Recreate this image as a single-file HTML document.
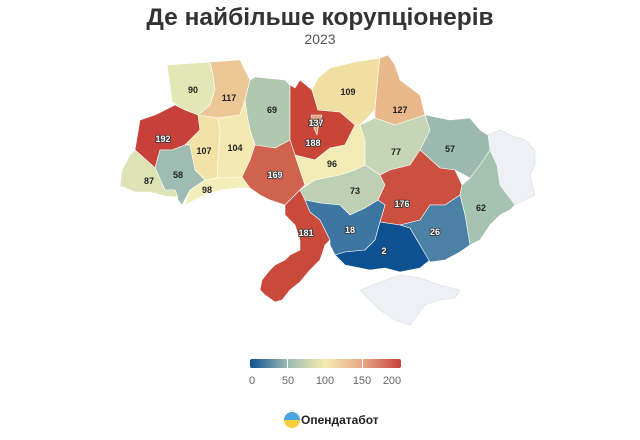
<!DOCTYPE html>
<html><head><meta charset="utf-8"><style>
body{margin:0;width:640px;height:435px;background:#fff;overflow:hidden;font-family:"Liberation Sans",sans-serif}
</style></head><body>
<svg width="640" height="435" viewBox="0 0 640 435" xmlns="http://www.w3.org/2000/svg" font-family="Liberation Sans, sans-serif">
<text x="320" y="25" text-anchor="middle" font-size="24.5" font-weight="bold" fill="#333">Де найбільше корупціонерів</text>
<text x="320" y="44" text-anchor="middle" font-size="14" fill="#555">2023</text>
<g stroke="#ffffff" stroke-width="0.6" stroke-linejoin="round">
<polygon fill="#eef0f5" stroke="#d6dbe4" points="488,135 500,130 510,135 525,140 535,150 535,165 530,175 535,195 515,205 500,185 497,165 490,150"/>
<polygon fill="#eef0f5" stroke="#d6dbe4" points="360,290 380,282 400,275 420,278 440,285 460,290 455,298 440,300 425,305 410,325 395,320 380,310 370,300"/>
<polygon fill="#e3e7b6" points="167,65 210,62 213,75 215,90 210,105 198,115 185,110 172,102 170,85"/>
<polygon fill="#ecc796" points="210,62 240,60 250,80 245,100 240,115 218,118 198,115 210,105 215,90 213,75"/>
<polygon fill="#b0c8b0" points="250,80 255,77 285,80 290,85 290,140 275,148 255,145 250,130 247,115 245,100"/>
<polygon fill="#c94538" points="290,85 295,88 300,80 312,90 318,110 340,112 355,125 345,145 330,148 315,160 295,155 290,140"/>
<polygon fill="#e5a585" points="311,115 322,115 318,128 317,135 314,128"/>
<polygon fill="#f1dfa2" points="318,78 330,68 355,62 380,58 378,75 375,110 360,125 355,125 340,112 318,110 312,90"/>
<polygon fill="#e9b88a" points="380,58 388,55 395,65 400,80 420,95 425,115 410,120 395,125 375,118 375,110 378,75"/>
<polygon fill="#c8403a" points="135,150 140,120 155,115 175,105 185,110 198,115 200,130 185,145 172,150 160,150 155,168"/>
<polygon fill="#f2e2a6" points="200,130 198,115 218,118 220,130 218,160 217,178 205,180 195,170 190,145 185,145"/>
<polygon fill="#f4eab1" points="220,130 218,118 240,115 245,100 247,115 250,130 255,145 250,160 242,177 217,178 218,160"/>
<polygon fill="#9ebcb1" points="155,168 160,150 172,150 185,145 190,145 195,170 205,180 190,190 182,205 178,200 175,190 165,190"/>
<polygon fill="#dde3b5" points="122,170 130,155 135,150 155,168 165,190 175,190 178,197 165,196 150,192 135,192 120,186"/>
<polygon fill="#f3efba" points="190,190 205,180 217,178 242,177 250,188 240,188 220,190 205,195 185,205"/>
<polygon fill="#d0634d" points="255,145 275,148 290,140 295,155 300,170 305,185 300,190 295,195 285,205 270,200 260,195 250,188 242,177 250,160"/>
<polygon fill="#f2ecb4" points="295,155 315,160 330,148 345,145 355,125 360,125 365,140 365,165 355,170 340,175 315,180 300,190 305,185 300,170"/>
<polygon fill="#c6d5b5" points="360,125 375,118 395,125 410,120 425,115 430,130 420,150 410,165 390,170 380,175 365,165 365,140"/>
<polygon fill="#9cbab0" points="425,115 450,120 470,118 480,130 488,135 490,150 480,165 470,178 455,170 440,168 420,150 430,130"/>
<polygon fill="#bdd0b3" points="300,190 315,180 340,175 355,170 365,165 380,175 385,185 378,200 365,208 350,215 340,205 320,203 305,200"/>
<polygon fill="#cb5040" points="380,175 390,170 410,165 420,150 440,168 455,170 462,185 460,195 445,205 430,205 420,220 400,225 380,222 385,205 378,200 385,185"/>
<polygon fill="#a6c2b1" points="470,178 480,165 490,150 497,165 500,185 515,205 510,210 500,215 490,225 480,240 470,245 465,215 460,195 462,185"/>
<polygon fill="#c94a3a" points="285,205 295,195 300,190 305,200 310,212 320,220 330,240 325,245 320,260 310,270 300,282 290,290 282,300 275,302 265,295 260,290 262,280 270,270 275,265 285,260 290,255 300,250 300,240 295,225 285,215"/>
<polygon fill="#3e76a2" points="305,200 320,203 340,205 350,215 365,208 378,200 385,205 380,222 375,240 365,250 345,252 335,255 330,245 330,240 320,220 310,212"/>
<polygon fill="#0e5193" points="335,255 345,252 365,250 375,240 380,222 400,225 410,228 420,245 430,260 420,268 400,272 385,268 370,270 360,268 345,265"/>
<polygon fill="#4b81a5" points="400,225 420,220 430,205 445,205 460,195 465,215 470,245 460,252 445,260 430,262 420,245 410,228"/>
</g>
<g font-size="9" font-weight="bold" text-anchor="middle" fill="#222">
<text x="193" y="93">90</text><text x="229" y="101">117</text><text x="272" y="113">69</text>
<text x="348" y="95">109</text><text x="400" y="113">127</text><text x="235" y="151">104</text>
<text x="204" y="154">107</text><text x="149" y="184">87</text><text x="207" y="193">98</text>
<text x="332" y="167">96</text><text x="396" y="155">77</text><text x="450" y="152">57</text>
<text x="355" y="194">73</text><text x="481" y="211">62</text><text x="178" y="178">58</text>
</g>
<g font-size="9" font-weight="bold" text-anchor="middle" fill="#fff" stroke="#333" stroke-width="1.6" paint-order="stroke">
<text x="163" y="142">192</text><text x="316" y="126">137</text><text x="313" y="146">188</text>
<text x="275" y="178">169</text><text x="402" y="207">176</text><text x="306" y="236">181</text>
<text x="350" y="233">18</text><text x="384" y="254">2</text><text x="435" y="235">26</text>
</g>
<defs><linearGradient id="g" x1="0" x2="1">
<stop offset="0" stop-color="#0e5193"/><stop offset="0.25" stop-color="#9cbab0"/>
<stop offset="0.5" stop-color="#f6ecb0"/><stop offset="0.75" stop-color="#e5a585"/>
<stop offset="1" stop-color="#c8403a"/></linearGradient></defs>
<rect x="250" y="359" width="151" height="9" rx="2" fill="url(#g)"/>
<rect x="287" y="359" width="1" height="9" fill="#fff"/><rect x="362" y="359" width="1" height="9" fill="#fff"/>
<g font-size="11" fill="#666" text-anchor="middle">
<text x="252" y="384">0</text><text x="288" y="384">50</text><text x="325" y="384">100</text>
<text x="362" y="384">150</text><text x="392" y="384">200</text></g>
<circle cx="292" cy="420" r="8" fill="#f6cf3a"/>
<path d="M284,420 A8,8 0 0 1 300,420 Z" fill="#4aa6e0"/>
<text x="301" y="424" font-size="12" font-weight="bold" fill="#222">Опендатабот</text>
</svg>
</body></html>
